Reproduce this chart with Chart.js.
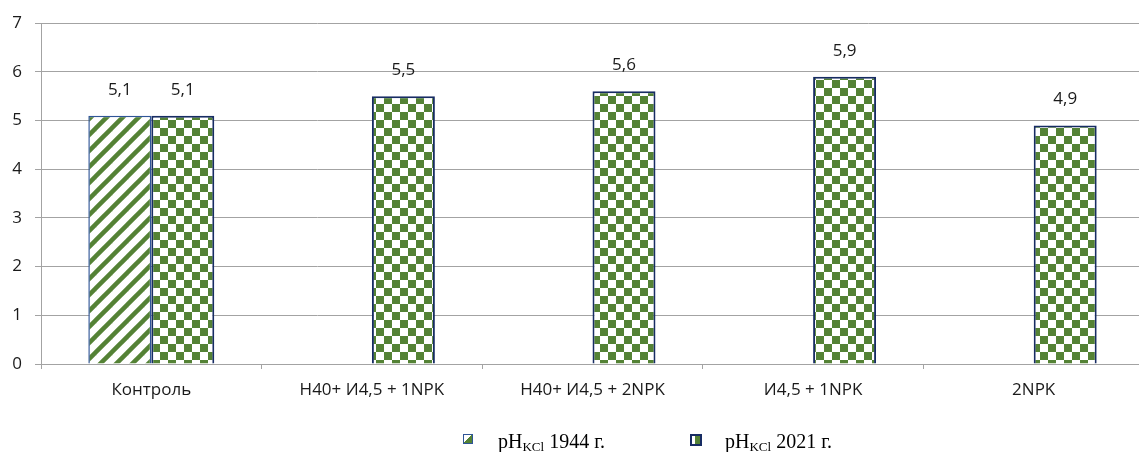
<!DOCTYPE html>
<html>
<head>
<meta charset="utf-8">
<title>pH KCl</title>
<script src="https://cdn.jsdelivr.net/npm/chart.js"></script>
<style>
  html, body { margin: 0; padding: 0; background: #fff; overflow: hidden; }
  #wrap { position: relative; width: 1146px; height: 452px; }
  #legend { position: absolute; left: 0; top: 430px; width: 1139px; height: 22px;
            font-family: "Liberation Serif", "Times New Roman", serif; font-size: 20px; color: #000; }
  .item { position: absolute; top: 0; line-height: 22px; white-space: nowrap; }
  .box { position: absolute; top: 4px; width: 8px; height: 8px; }
  .item sub { font-size: 13px; vertical-align: -3px; line-height: 0; }
</style>
</head>
<body>
<div id="wrap">
  <canvas id="chart" width="1146" height="452"></canvas>
  <div id="legend"></div>
</div>
<script>
// данные
const categories = ['Контроль', 'Н40+ И4,5 + 1NPK', 'Н40+ И4,5 + 2NPK', 'И4,5 + 1NPK', '2NPK'];
const ph1944 = [5.1, null, null, null, null];
const ph2021 = [5.1, 5.5, 5.6, 5.9, 4.9];
const seriesYears = ['1944 г.', '2021 г.'];
const yMin = 0, yMax = 7, yStep = 1;

const green = '#548235';
const gridColor = '#a3a3a3';
const textColor = '#1a1a1a';
const labelFont = { family: '"Open Sans", "Liberation Sans", sans-serif', size: 17 };

// штриховка для 1944
function stripePattern() {
  const c = document.createElement('canvas');
  c.width = 16; c.height = 16;
  const g = c.getContext('2d');
  g.fillStyle = '#fff';
  g.fillRect(0, 0, 16, 16);
  g.strokeStyle = green;
  g.lineWidth = 4.5;
  [[-8, 8, 8, -8], [0, 16, 16, 0], [8, 24, 24, 8]].forEach(([x1, y1, x2, y2]) => {
    g.beginPath(); g.moveTo(x1, y1); g.lineTo(x2, y2); g.stroke();
  });
  return g.createPattern(c, 'repeat');
}

// шахматка для 2021
function checkerPattern() {
  const c = document.createElement('canvas');
  c.width = 16; c.height = 16;
  const g = c.getContext('2d');
  g.fillStyle = '#fff';
  g.fillRect(0, 0, 16, 16);
  g.fillStyle = green;
  g.fillRect(0, 0, 8, 8);
  g.fillRect(8, 8, 8, 8);
  return g.createPattern(c, 'repeat');
}

// подписи значений над столбцами
const valueLabels = {
  id: 'valueLabels',
  afterDatasetsDraw(chart) {
    const ctx = chart.ctx;
    ctx.save();
    ctx.font = labelFont.size + 'px ' + labelFont.family;
    ctx.fillStyle = textColor;
    ctx.textAlign = 'center';
    ctx.textBaseline = 'middle';
    chart.data.datasets.forEach((ds, i) => {
      chart.getDatasetMeta(i).data.forEach((bar, j) => {
        const v = ds.data[j];
        if (v == null) return;
        ctx.fillText(String(v).replace('.', ','), bar.x, bar.y - 26);
      });
    });
    ctx.restore();
  }
};

// легенда в HTML (нужен подстрочный индекс)
const htmlLegend = {
  id: 'htmlLegend',
  afterUpdate(chart) {
    const box = document.getElementById('legend');
    box.innerHTML = '';
    const pos = [463, 690];
    const swatches = [
      'border:1.5px solid #2f5597;background:linear-gradient(135deg,#fff 50%,' + green + ' 50%);',
      'border:2px solid #172c63;background:linear-gradient(to right,#fff 35%,' + green + ' 35%);'
    ];
    chart.data.datasets.forEach((ds, i) => {
      const sw = document.createElement('span');
      sw.className = 'box';
      sw.style.cssText = 'left:' + pos[i] + 'px;' + swatches[i];
      box.appendChild(sw);
      const it = document.createElement('span');
      it.className = 'item';
      it.style.left = (pos[i] + 35) + 'px';
      it.innerHTML = 'pH<sub>KCl</sub> ' + seriesYears[i];
      box.appendChild(it);
    });
  }
};

new Chart(document.getElementById('chart'), {
  type: 'bar',
  data: {
    labels: categories,
    datasets: [
      { label: 'pH KCl ' + seriesYears[0], data: ph1944, backgroundColor: stripePattern(),
        borderColor: '#2f5597', borderWidth: 1.5 },
      { label: 'pH KCl ' + seriesYears[1], data: ph2021, backgroundColor: checkerPattern(),
        borderColor: '#172c63', borderWidth: 2 }
    ]
  },
  options: {
    responsive: false,
    animation: false,
    devicePixelRatio: 1,
    layout: { padding: { top: 20, right: 2, bottom: 38, left: 0 } },
    datasets: { bar: { categoryPercentage: 0.571, barPercentage: 1 } },
    plugins: { legend: { display: false }, tooltip: { enabled: false } },
    scales: {
      x: {
        grid: { offset: true, drawOnChartArea: false, drawTicks: true, tickLength: 5, color: gridColor },
        border: { color: gridColor },
        ticks: { color: textColor, font: labelFont, padding: 11, maxRotation: 0 },
        afterFit(scale) { scale.height = 50; }
      },
      y: {
        min: yMin, max: yMax,
        grid: { color: gridColor, tickLength: 6 },
        border: { color: gridColor },
        ticks: { stepSize: yStep, color: textColor, font: labelFont, padding: 13 },
        afterFit(scale) { scale.width = 41; }
      }
    }
  },
  plugins: [valueLabels, htmlLegend]
});
</script>
</body>
</html>
